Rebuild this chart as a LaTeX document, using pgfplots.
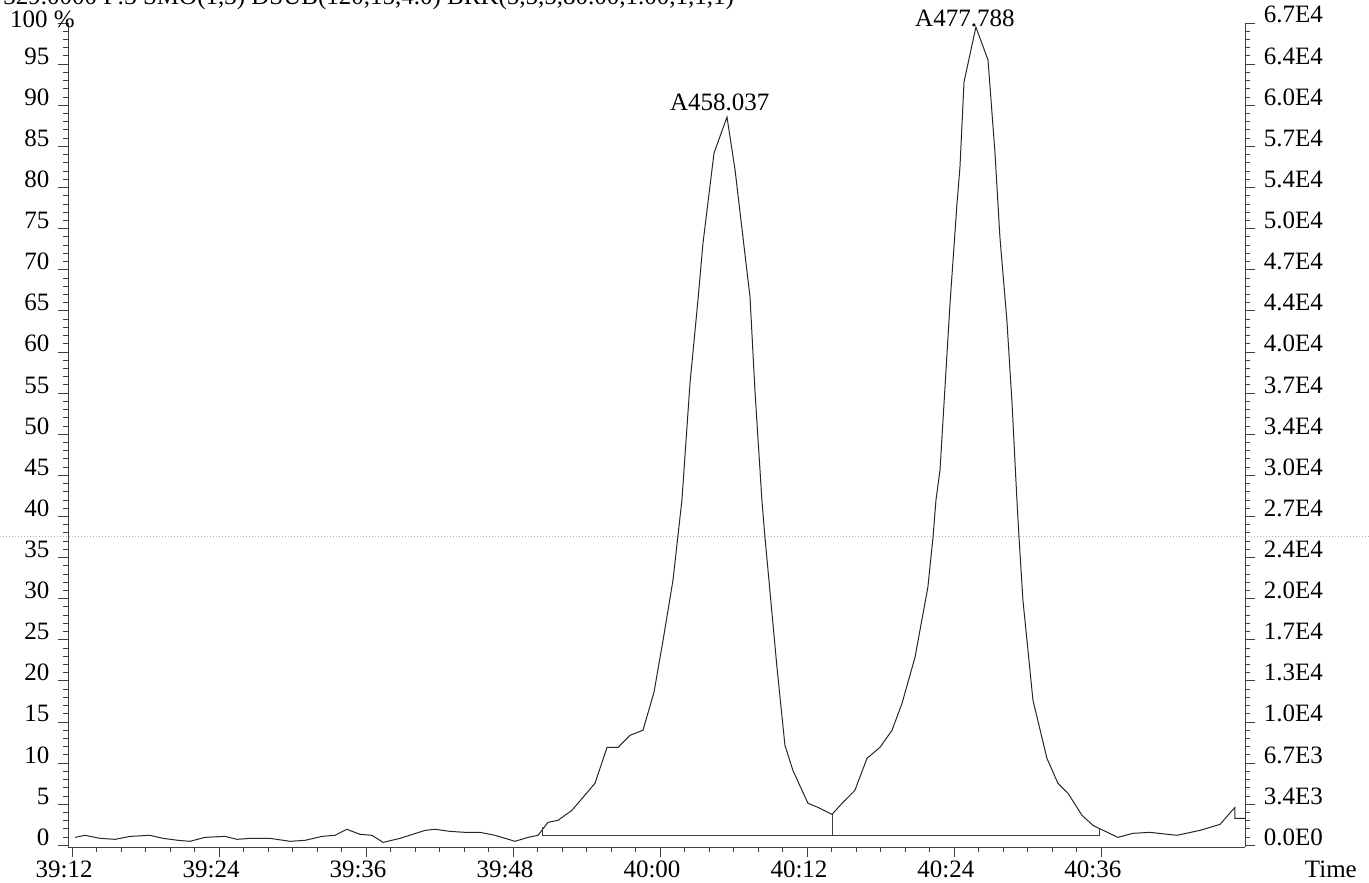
\documentclass[border=0pt]{standalone}
\usepackage{fontspec}
\setmainfont{Liberation Serif}
\usepackage{pgfplots}
\pgfplotsset{compat=1.18}
\newcommand{\lblfont}{\fontsize{12.5}{14}\selectfont}
\begin{document}
\lblfont
\begin{tikzpicture}
\begin{axis}[name=main, scale only axis, width=588.5pt, height=412.2pt,
  xmin=2351.67, xmax=2447.76, ymin=-0.25, ymax=100,
  axis x line*=bottom, axis y line*=left,
  axis line style={black!75, line width=0.4pt},
  tick align=outside, major tick length=5pt, minor tick length=2.5pt,
  every tick/.style={black!75, line width=0.4pt},
  xtick={2352,2364,2376,2388,2400,2412,2424,2436},
  xticklabels={39:12,39:24,39:36,39:48,40:00,40:12,40:24,40:36},
  minor x tick num=5,
  ytick={0,5,...,100},
  yticklabels={0,5,10,15,20,25,30,35,40,45,50,55,60,65,70,75,80,85,90,95,{}},
  minor y tick num=4,
  ticklabel style={font=\lblfont},
  yticklabel style={anchor=base east},
  xticklabel style={anchor=base, yshift=-10pt, xshift=-4pt},
  /pgf/number format/assume math mode=true,
  clip=false,
]
% scan artefact line
\draw[black!30, densely dotted, line width=0.5pt] (axis cs:2346.10,37.5) -- (axis cs:2457.86,37.5);
% chromatogram trace
\addplot[black!85, line width=0.5pt] coordinates {
(2352.25,0.97) (2353.06,1.22) (2354.29,0.85) (2355.51,0.73) (2356.74,1.09)
(2358.36,1.22) (2359.43,0.85) (2360.66,0.61) (2361.63,0.49) (2362.85,0.97)
(2364.49,1.09) (2365.47,0.73) (2366.53,0.85) (2368.16,0.85) (2369.80,0.49)
(2371.02,0.61) (2372.41,1.09) (2373.47,1.22) (2374.44,1.95) (2375.51,1.34)
(2376.49,1.22) (2377.39,0.36) (2378.78,0.85) (2380.82,1.82) (2381.63,1.95)
(2382.86,1.70) (2384.09,1.58) (2385.31,1.58) (2386.53,1.22) (2388.16,0.49)
(2389.23,0.97) (2390.04,1.22) (2390.86,2.80) (2391.67,3.04) (2392.81,4.26)
(2393.72,5.84) (2394.69,7.54) (2395.68,11.92) (2396.57,11.92) (2397.55,13.38)
(2398.61,13.99) (2399.51,18.61) (2400.25,24.94) (2401.06,32.24) (2401.79,41.97)
(2402.45,56.20) (2403.10,66.30) (2403.51,73.24) (2404.41,84.18) (2405.47,88.56)
(2406.13,82.12) (2407.35,66.67) (2407.75,55.35) (2408.32,41.97) (2408.57,37.47)
(2409.55,21.65) (2410.20,12.17) (2410.85,9.12) (2412.08,5.11) (2412.90,4.62)
(2414.04,3.77) (2414.94,5.23) (2415.91,6.69) (2416.90,10.58) (2417.96,11.92)
(2418.94,13.99) (2419.76,17.27) (2420.82,22.87) (2421.87,31.39) (2422.29,37.47)
(2422.53,41.97) (2422.86,45.62) (2423.68,65.94) (2424.25,78.10) (2424.49,82.48)
(2424.82,92.82) (2425.79,99.51) (2426.78,95.50) (2427.35,84.18) (2427.75,73.97)
(2428.32,63.87) (2428.74,53.77) (2429.14,41.97) (2429.31,37.47) (2429.63,29.81)
(2430.45,17.64) (2431.59,10.58) (2432.49,7.54) (2433.31,6.33) (2434.45,3.65)
(2435.35,2.43) (2435.84,2.07) (2437.38,0.97) (2438.61,1.46) (2439.99,1.58)
(2442.20,1.22) (2444.08,1.82) (2445.72,2.55) (2446.94,4.62) (2446.94,3.28)
(2447.75,3.28)
};
% integration baseline and peak split
\addplot[black!75, line width=0.4pt] coordinates {
(2390.37,2.2) (2390.37,1.2) (2435.84,1.2) (2435.84,2.07)};
\addplot[black!75, line width=0.4pt] coordinates {(2414.04,1.2) (2414.04,3.77)};
% peak labels
\node[anchor=base, font=\lblfont] at (axis cs:2404.88,89.3) {A458.037};
\node[anchor=base, font=\lblfont] at (axis cs:2424.89,99.6) {A477.788};
\node[anchor=base east, inner sep=0pt, font=\lblfont] at (axis cs:2352.25,99.4) {100 \%};
\node[anchor=base, font=\lblfont] at (axis cs:2454.77,-3.9) {Time};
\node[anchor=base west, inner sep=0pt, overlay, font=\lblfont] at (axis cs:2346.37,102.2) {329.0000 F:3 SMO(1,3) DSUB(120,15,4.0) BRK(5,5,5,80.00,1.00,1,1,1)};
\end{axis}
\begin{axis}[scale only axis, width=588.5pt, height=412.2pt,
  xmin=2351.67, xmax=2447.76, ymin=-0.25, ymax=100,
  axis x line=none, axis y line*=right,
  axis line style={black!75, line width=0.4pt},
  tick align=outside, major tick length=5pt, minor tick length=2.5pt,
  every tick/.style={black!75, line width=0.4pt},
  ytick={0,5,...,100},
  yticklabels={0.0E0,3.4E3,6.7E3,1.0E4,1.3E4,1.7E4,2.0E4,2.4E4,2.7E4,3.0E4,3.4E4,3.7E4,4.0E4,4.4E4,4.7E4,5.0E4,5.4E4,5.7E4,6.0E4,6.4E4,6.7E4},
  minor y tick num=4,
  ticklabel style={font=\lblfont},
  yticklabel style={anchor=base west},
]
\end{axis}
\pgfresetboundingbox
\path[use as bounding box] ([xshift=-34pt,yshift=-17.5pt]main.south west) rectangle ([xshift=62pt,yshift=11.5pt]main.north east);
\end{tikzpicture}
\end{document}
